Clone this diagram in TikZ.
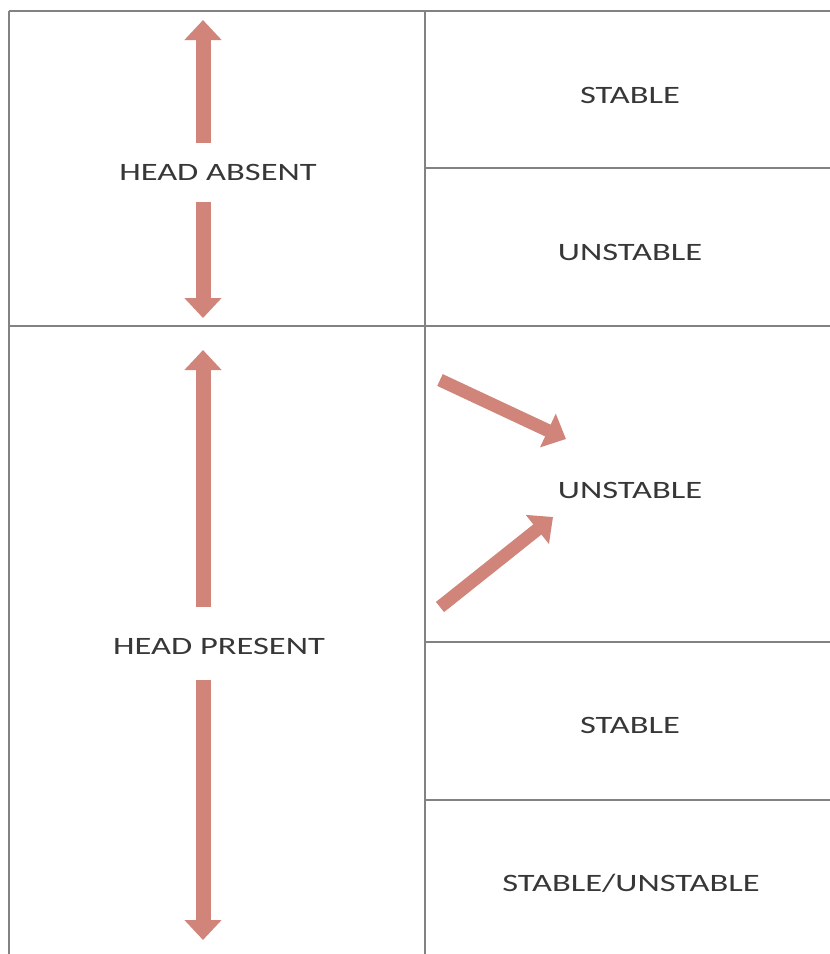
\documentclass[tikz,border=0pt]{standalone}
\usepackage{fontspec}
\setmainfont{Carlito}
\usetikzlibrary{arrows.meta}
\definecolor{arr}{RGB}{208,132,122}
\definecolor{grid}{RGB}{130,130,130}
\definecolor{txt}{RGB}{55,55,55}
\newcommand{\widetext}[1]{\scalebox{1.38}[1.0]{#1}}
\begin{document}
\begin{tikzpicture}[x=1pt,y=-1pt,
  gline/.style={draw=grid,line width=1.4pt},
  bigarrow/.style={draw=arr,line width=15pt,-{Triangle[width=36pt,length=20pt]}},
  lbl/.style={text=txt,font=\fontsize{25}{28}\selectfont,inner sep=0pt}]
\useasboundingbox (0,0) rectangle (830,954);
% grid
\coordinate (tl) at (9,11);
\coordinate (tr) at (830,11);
\coordinate (bl) at (9,954);
\coordinate (mt) at (425,11);
\coordinate (mb) at (425,954);
\draw[gline] (tl) -- (tr);
\draw[gline] (tl) -- (bl);
\draw[gline] (mt) -- (mb);
\draw[gline] (9,326) -- (830,326);
\draw[gline] (425,168) -- (830,168);
\draw[gline] (425,642) -- (830,642);
\draw[gline] (425,800) -- (830,800);
% labels
\node[lbl] (ha) at (218,172) {\widetext{HEAD ABSENT}};
\node[lbl] (hp) at (219,646) {\widetext{HEAD PRESENT}};
\node[lbl] (s1) at (630,95) {\widetext{STABLE}};
\node[lbl] (u1) at (630,252) {\widetext{UNSTABLE}};
\node[lbl] (u2) at (630,490) {\widetext{UNSTABLE}};
\node[lbl] (s2) at (630,725) {\widetext{STABLE}};
\node[lbl] (su) at (631,883) {\widetext{STABLE/UNSTABLE}};
% arrows
\coordinate (a1s) at (203,143); \coordinate (a1e) at (203,20);
\coordinate (a2s) at (203,202); \coordinate (a2e) at (203,318);
\coordinate (a3s) at (203,607); \coordinate (a3e) at (203,350);
\coordinate (a4s) at (203,680); \coordinate (a4e) at (203,940);
\coordinate (a5s) at (440,380); \coordinate (a5e) at (566,439);
\coordinate (a6s) at (440,607); \coordinate (a6e) at (553,517);
\draw[bigarrow] (a1s) -- (a1e);
\draw[bigarrow] (a2s) -- (a2e);
\draw[bigarrow] (a3s) -- (a3e);
\draw[bigarrow] (a4s) -- (a4e);
\draw[bigarrow,line width=13pt] (a5s) -- (a5e);
\draw[bigarrow,line width=13pt] (a6s) -- (a6e);
\end{tikzpicture}
\end{document}
